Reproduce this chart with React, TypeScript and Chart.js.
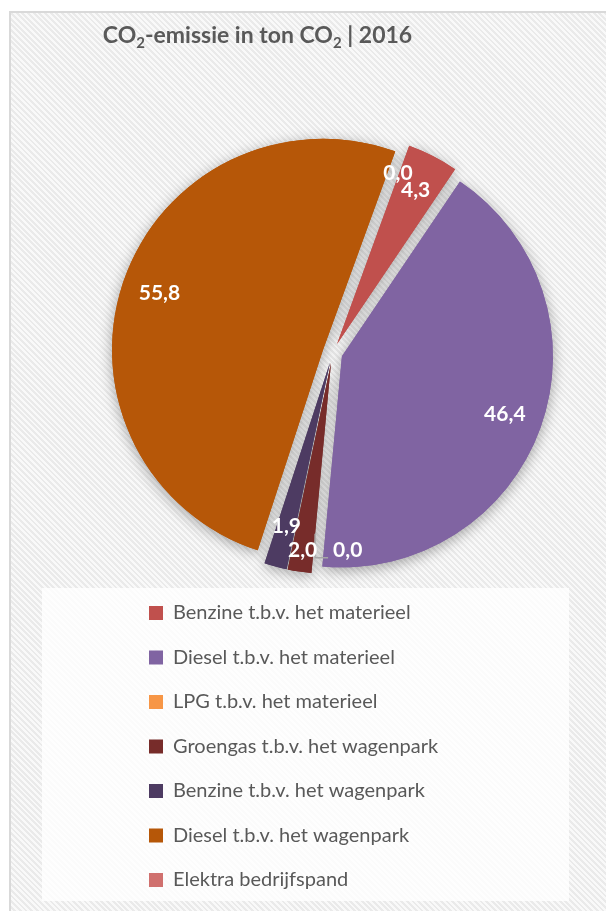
import React, { useEffect, useRef } from "react";
import { Chart, registerables } from "chart.js";

Chart.register(...registerables);

// ---- data ----
const categories = [
  "Benzine t.b.v. het materieel",
  "Diesel t.b.v. het materieel",
  "LPG t.b.v. het materieel",
  "Groengas t.b.v. het wagenpark",
  "Benzine t.b.v. het wagenpark",
  "Diesel t.b.v. het wagenpark",
  "Elektra bedrijfspand",
];
const emissions = [4.3, 46.4, 0.0, 2.0, 1.9, 55.8, 0.0];
const sliceColors = ["#C0504D", "#8064A2", "#F79646", "#772C2A", "#4D3B62", "#B65708", "#D0706E"];
const titleParts = [
  { text: "CO", sub: false },
  { text: "2", sub: true },
  { text: "-emissie in ton CO", sub: false },
  { text: "2", sub: true },
  { text: " | 2016", sub: false },
];

const FONT = "Lato, 'Open Sans', 'DejaVu Sans', sans-serif";
const EXPLODE = 10;
const CANVAS_W = 595;
const CANVAS_H = 898;

const fmt = (v: number) => v.toFixed(1).replace(".", ",");

const backgroundPlugin = {
  id: "legendBackdrop",
  beforeDraw(chart: any) {
    const ctx = chart.ctx;
    ctx.save();
    ctx.fillStyle = "rgba(255,255,255,0.8)";
    ctx.fillRect(31, 575, 527, 313);
    ctx.restore();
  },
};

const titlePlugin = {
  id: "subTitle",
  afterDraw(chart: any) {
    const ctx = chart.ctx;
    ctx.save();
    const big = `bold 23px ${FONT}`;
    const small = `bold 15px ${FONT}`;
    let total = 0;
    titleParts.forEach((p) => {
      ctx.font = p.sub ? small : big;
      total += ctx.measureText(p.text).width;
    });
    let x = 246.5 - total / 2;
    const baseline = 30;
    ctx.fillStyle = "#595959";
    ctx.textBaseline = "alphabetic";
    ctx.textAlign = "left";
    titleParts.forEach((p) => {
      ctx.font = p.sub ? small : big;
      ctx.fillText(p.text, x, p.sub ? baseline + 5 : baseline);
      x += ctx.measureText(p.text).width;
    });
    ctx.restore();
  },
};

const explodePlugin = {
  id: "explodePie",
  beforeDatasetDraw(chart: any, args: any) {
    const ctx = chart.ctx;
    const arcs = args.meta.data;
    const drawAll = () => {
      arcs.forEach((arc: any) => {
        const mid = (arc.startAngle + arc.endAngle) / 2;
        ctx.save();
        ctx.translate(Math.cos(mid) * EXPLODE, Math.sin(mid) * EXPLODE);
        arc.draw(ctx);
        ctx.restore();
      });
    };
    ctx.save();
    ctx.shadowColor = "rgba(0,0,0,0.35)";
    ctx.shadowBlur = 14;
    ctx.shadowOffsetY = 3;
    drawAll();
    ctx.restore();
    ctx.save();
    drawAll();
    ctx.restore();
    return false;
  },
};

const labelPlugin = {
  id: "sliceLabels",
  afterDatasetsDraw(chart: any) {
    const ctx = chart.ctx;
    const meta = chart.getDatasetMeta(0);
    ctx.save();
    ctx.font = `bold 21px ${FONT}`;
    ctx.fillStyle = "#FFFFFF";
    ctx.textAlign = "center";
    ctx.textBaseline = "middle";
    let smallCount = 0;
    meta.data.forEach((arc: any, i: number) => {
      const v = emissions[i];
      const span = arc.endAngle - arc.startAngle;
      const mid = (arc.startAngle + arc.endAngle) / 2;
      let factor = 0.82;
      if (v === 0) factor = 0.86;
      else if (span < (10 * Math.PI) / 180) {
        factor = smallCount % 2 === 0 ? 0.9 : 0.8;
        smallCount++;
      }
      const r = arc.outerRadius * factor + EXPLODE;
      let x = arc.x + Math.cos(mid) * r;
      let y = arc.y + Math.sin(mid) * r;
      const text = fmt(v);
      if (v === 0 && Math.sin(mid) > 0.5) {
        x += 33;
        y += 7;
        const w = ctx.measureText(text).width;
        ctx.save();
        ctx.strokeStyle = "#A6A6A6";
        ctx.lineWidth = 1.5;
        ctx.beginPath();
        ctx.moveTo(x - w / 2 - 18, y - 17);
        ctx.lineTo(x - w / 2 - 18, y + 7);
        ctx.lineTo(x - w / 2 - 5, y + 7);
        ctx.stroke();
        ctx.restore();
      }
      ctx.fillText(text, x, y);
    });
    ctx.restore();
  },
};

function PieChart() {
  const ref = useRef<HTMLCanvasElement | null>(null);
  useEffect(() => {
    if (!ref.current) return;
    const chart = new Chart(ref.current, {
      type: "pie",
      data: {
        labels: categories,
        datasets: [
          {
            data: emissions,
            backgroundColor: sliceColors,
            borderWidth: 0,
            clip: false as any,
          },
        ],
      },
      options: {
        animation: false,
        responsive: false,
        devicePixelRatio: 1,
        rotation: 20,
        radius: 211,
        layout: { padding: { left: 113.5, right: 65.5, top: 114.5, bottom: 11 } },
        plugins: {
          title: { display: false },
          tooltip: { enabled: false },
          legend: {
            display: true,
            position: "bottom",
            align: "start",
            labels: {
              boxWidth: 14,
              boxHeight: 14,
              padding: 24.5,
              color: "#595959",
              font: { family: FONT, size: 20 },
            },
          },
        },
      } as any,
      plugins: [backgroundPlugin, explodePlugin, labelPlugin, titlePlugin],
    });
    return () => chart.destroy();
  }, []);
  return <canvas ref={ref} width={CANVAS_W} height={CANVAS_H} style={{ display: "block", width: CANVAS_W, height: CANVAS_H }} />;
}

export default function App() {
  return (
    <div
      style={{
        position: "absolute",
        left: 9,
        top: 11,
        width: 597,
        height: 900,
        overflow: "hidden",
        borderLeft: "2px solid #d9d9d9",
        borderTop: "2px solid #d9d9d9",
        boxSizing: "border-box",
        background: "repeating-linear-gradient(45deg, #f9f9f9 0px, #f9f9f9 2px, #eaeaea 2px, #eaeaea 4px)",
      }}
    >
      <PieChart />
    </div>
  );
}
